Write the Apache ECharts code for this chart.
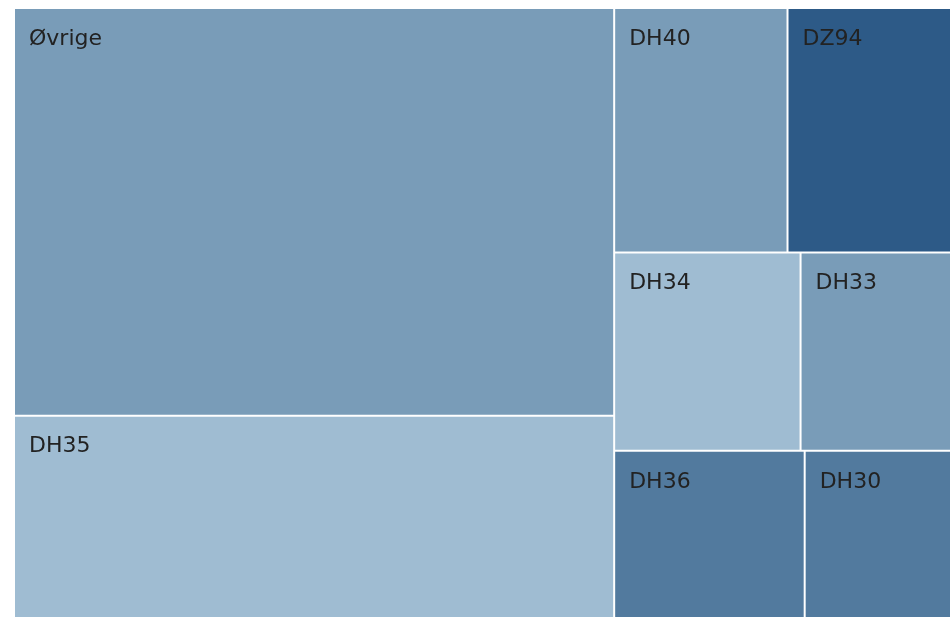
<!DOCTYPE html>
<html>
<head>
<meta charset="utf-8">
<script src="https://cdn.jsdelivr.net/npm/echarts@6/dist/echarts.min.js"></script>
<style>
html,body{margin:0;padding:0;background:#fff;}
#chart{width:950px;height:617px;}
</style>
</head>
<body>
<div id="chart"></div>
<script>
const categories = ['Øvrige', 'DH35', 'DH40', 'DZ94', 'DH34', 'DH33', 'DH36', 'DH30'];
const values = [2436, 1215, 422, 398, 368, 297, 319, 245];
const colors = ['#799cb8', '#9fbcd2', '#799cb8', '#2d5a87', '#9fbcd2', '#799cb8', '#527a9e', '#527a9e'];

const data = categories.map((name, i) => ({
  name: name,
  value: values[i],
  itemStyle: { color: colors[i] }
}));

const chart = echarts.init(document.getElementById('chart'));
chart.setOption({
  animation: false,
  series: [{
    type: 'treemap',
    left: 13,
    top: 7,
    width: 939,
    height: 613,
    sort: false,
    roam: false,
    nodeClick: false,
    breadcrumb: { show: false },
    squareRatio: 0.5 * (1 + Math.sqrt(5)),
    itemStyle: { borderColor: '#ffffff', borderWidth: 1, gapWidth: 0 },
    label: {
      show: true,
      position: 'insideTopLeft',
      distance: 0,
      padding: [19, 0, 0, 14],
      color: '#222222',
      fontFamily: 'DejaVu Sans',
      fontSize: 22,
      formatter: '{b}'
    },
    emphasis: { disabled: true },
    data: data
  }]
});
</script>
</body>
</html>
